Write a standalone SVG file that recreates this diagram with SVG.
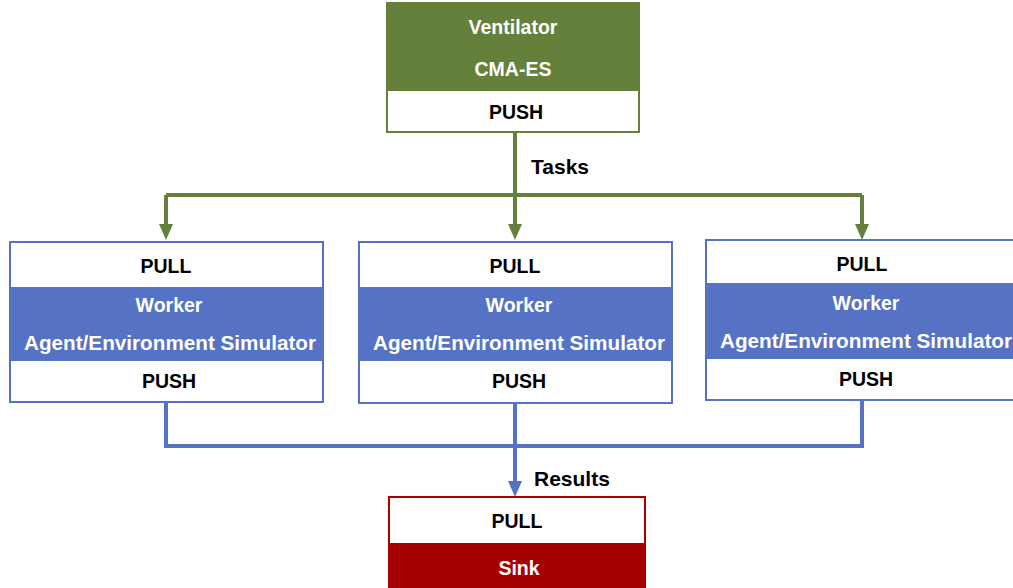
<svg xmlns="http://www.w3.org/2000/svg" width="1013" height="588" viewBox="0 0 1013 588">
  <style>
    .lbl { font-family: "Liberation Sans", Arial, sans-serif; font-weight: bold; font-size: 19.5px; text-anchor: middle; dominant-baseline: central; }
    .dark { fill: #000; }
    .light { fill: #fff; }
    .edge { font-family: "Liberation Sans", Arial, sans-serif; font-weight: bold; font-size: 21px; fill: #000; }
    .green { stroke: #64803a; }
    .blue { stroke: #5572c4; }
    .wire { fill: none; stroke-width: 4; }
  </style>

  <!-- connectors -->
  <g id="connectors">
    <!-- task fan-out -->
    <path class="wire green" d="M515,132 V195 M166,195 H862 M166,195 V226 M515,195 V226 M862,195 V226"/>
    <path d="M159,224 H173 L166,240 Z M508,224 H522 L515,240 Z M855,224 H869 L862,240 Z" fill="#64803a"/>
    <!-- result fan-in -->
    <path class="wire blue" d="M166,402 V446 H862 V400 M515,403 V483"/>
    <path d="M508,481 H522 L515,497 Z" fill="#5572c4"/>
    <text class="edge" x="531" y="174">Tasks</text>
    <text class="edge" x="534" y="486">Results</text>
  </g>

  <!-- ventilator -->
  <g id="ventilator">
    <rect x="387" y="3" width="252" height="88" fill="#64803a"/>
    <rect x="387" y="91" width="252" height="41" fill="#fff"/>
    <rect x="387" y="3" width="252" height="129" fill="none" stroke="#64803a" stroke-width="2"/>
    <text class="lbl light" x="513" y="27">Ventilator</text>
    <text class="lbl light" x="513" y="69">CMA-ES</text>
    <text class="lbl dark" x="516" y="112">PUSH</text>
  </g>

  <!-- worker 1 -->
  <g id="worker1">
    <rect x="10" y="242" width="313" height="45" fill="#fff"/>
    <rect x="10" y="287" width="313" height="74" fill="#5572c4"/>
    <rect x="10" y="361" width="313" height="41" fill="#fff"/>
    <rect x="10" y="242" width="313" height="160" fill="none" stroke="#5572c4" stroke-width="2"/>
    <text class="lbl dark" x="166" y="266">PULL</text>
    <text class="lbl light" x="169" y="305">Worker</text>
    <text class="lbl light" x="170" y="343" textLength="292" lengthAdjust="spacingAndGlyphs">Agent/Environment Simulator</text>
    <text class="lbl dark" x="169" y="381">PUSH</text>
  </g>

  <!-- worker 2 -->
  <g id="worker2">
    <rect x="359" y="242" width="313" height="45" fill="#fff"/>
    <rect x="359" y="287" width="313" height="74" fill="#5572c4"/>
    <rect x="359" y="361" width="313" height="42" fill="#fff"/>
    <rect x="359" y="242" width="313" height="161" fill="none" stroke="#5572c4" stroke-width="2"/>
    <text class="lbl dark" x="515" y="266">PULL</text>
    <text class="lbl light" x="519" y="305">Worker</text>
    <text class="lbl light" x="519" y="343" textLength="292" lengthAdjust="spacingAndGlyphs">Agent/Environment Simulator</text>
    <text class="lbl dark" x="519" y="381">PUSH</text>
  </g>

  <!-- worker 3 -->
  <g id="worker3">
    <rect x="706" y="240" width="313" height="43" fill="#fff"/>
    <rect x="706" y="283" width="313" height="76" fill="#5572c4"/>
    <rect x="706" y="359" width="313" height="41" fill="#fff"/>
    <rect x="706" y="240" width="313" height="160" fill="none" stroke="#5572c4" stroke-width="2"/>
    <text class="lbl dark" x="862" y="264">PULL</text>
    <text class="lbl light" x="866" y="303">Worker</text>
    <text class="lbl light" x="866" y="341" textLength="292" lengthAdjust="spacingAndGlyphs">Agent/Environment Simulator</text>
    <text class="lbl dark" x="866" y="379">PUSH</text>
  </g>

  <!-- sink -->
  <g id="sink">
    <rect x="389" y="497" width="256" height="46" fill="#fff"/>
    <rect x="389" y="543" width="256" height="50" fill="#a80000"/>
    <rect x="389" y="497" width="256" height="96" fill="none" stroke="#a80000" stroke-width="2"/>
    <text class="lbl dark" x="517" y="521">PULL</text>
    <text class="lbl light" x="519" y="568">Sink</text>
  </g>
</svg>
